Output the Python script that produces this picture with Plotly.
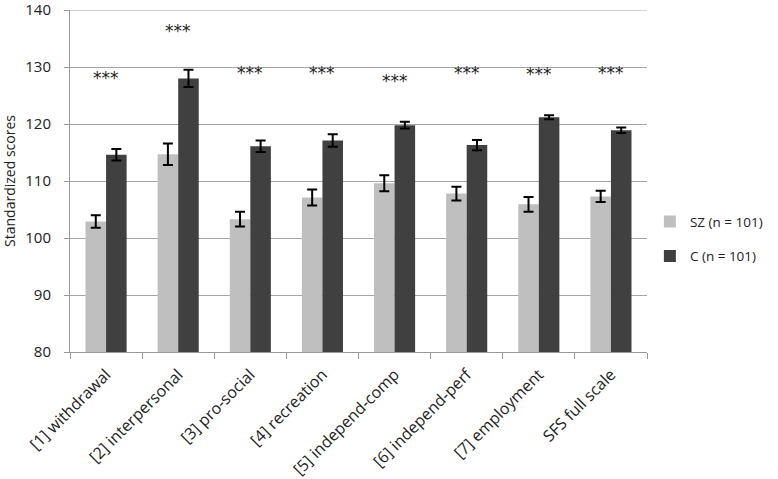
import plotly.graph_objects as go

# SFS subscale scores
categories = ['[1] withdrawal', '[2] interpersonal', '[3] pro-social', '[4] recreation',
              '[5] independ-comp', '[6] independ-perf', '[7] employment', 'SFS full scale']
sz_mean = [102.9, 114.7, 103.3, 107.1, 109.6, 107.8, 105.9, 107.3]
sz_err = [1.1, 1.9, 1.3, 1.4, 1.4, 1.2, 1.3, 1.0]
c_mean = [114.6, 128.0, 116.1, 117.1, 119.8, 116.3, 121.2, 118.9]
c_err = [1.0, 1.5, 1.0, 1.1, 0.6, 0.9, 0.35, 0.5]
star_y = [128.0, 136.4, 128.9, 129.0, 127.6, 129.0, 128.8, 129.0]

fig = go.Figure()

fig.add_trace(go.Bar(
    name='SZ (n = 101)', x=categories, y=sz_mean, legendgroup='sz',
    marker=dict(color='#bfbfbf', line=dict(width=0)),
    error_y=dict(type='data', array=sz_err, color='black', thickness=2, width=5),
))
fig.add_trace(go.Bar(
    name='C (n = 101)', x=categories, y=c_mean, legendgroup='c',
    marker=dict(color='#404040', line=dict(width=0)),
    error_y=dict(type='data', array=c_err, color='black', thickness=2, width=5),
))

# significance markers
for cat, sy in zip(categories, star_y):
    fig.add_annotation(x=cat, y=sy, text='***', showarrow=False,
                       font=dict(size=17, color='#222222', family='DejaVu Sans'))

# top gridline (plotly skips the one on the range edge)
fig.add_shape(type='line', xref='paper', yref='y', x0=0, x1=1, y0=140, y1=140,
              line=dict(color='#a6a6a6', width=1), layer='below')

fig.update_layout(
    width=778, height=479,
    margin=dict(l=70, r=131, t=10, b=127),
    plot_bgcolor='white', paper_bgcolor='white',
    barmode='group', bargap=0.43, bargroupgap=0,
    font=dict(family='Open Sans, Liberation Sans, sans-serif', size=14, color='#222222'),
    xaxis=dict(
        tickangle=-45, showline=True, linecolor='#999999', linewidth=1,
        ticks='outside', ticklen=6, tickcolor='#999999', tickson='boundaries',
        showgrid=False, tickfont=dict(size=16), automargin=False,
        ticklabelstandoff=6,
    ),
    yaxis=dict(
        range=[80, 140], dtick=10, tick0=80, showline=True, linecolor='#999999', linewidth=1,
        ticks='outside', ticklen=5, tickcolor='#999999',
        showgrid=True, gridcolor='#a6a6a6', gridwidth=1,
        tickfont=dict(size=15), zeroline=False, automargin=False,
        ticklabeloverflow='allow', ticklabelstandoff=10,
        title=dict(text='Standardized scores', font=dict(size=14), standoff=14),
    ),
    legend=dict(x=1.005, y=0.33, xanchor='left', yanchor='middle',
                font=dict(size=13.5), itemsizing='constant',
                traceorder='grouped', tracegroupgap=14),
)

fig.write_html('out.html', config={'displayModeBar': False},
               post_script="document.body.style.margin='0';")
